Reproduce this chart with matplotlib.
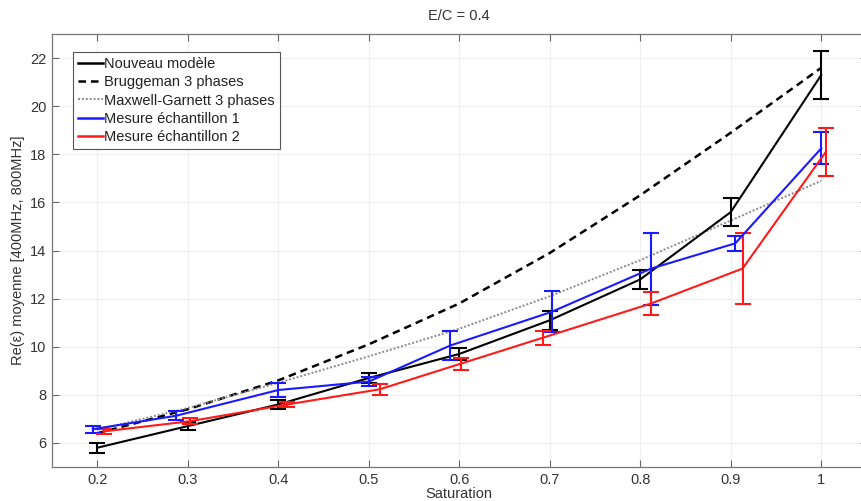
import matplotlib
matplotlib.use("Agg")
import matplotlib.pyplot as plt
from matplotlib.lines import Line2D

plt.rcParams['font.family'] = ['Liberation Sans', 'DejaVu Sans']

saturation = [0.2, 0.3, 0.4, 0.5, 0.6, 0.7, 0.8, 0.9, 1.0]

nouveau = [5.8, 6.7, 7.6, 8.7, 9.7, 11.1, 12.8, 15.6, 21.3]
nouveau_err = [0.2, 0.15, 0.17, 0.2, 0.26, 0.4, 0.38, 0.58, 0.99]

bruggeman = [6.4, 7.4, 8.6, 10.1, 11.8, 13.9, 16.3, 18.9, 21.6]
maxwell = [6.55, 7.45, 8.5, 9.6, 10.75, 12.1, 13.6, 15.25, 16.9]

x_mes1 = [0.195, 0.287, 0.4, 0.5, 0.59, 0.702, 0.812, 0.905, 1.0]
mes1 = [6.57, 7.13, 8.2, 8.55, 10.05, 11.45, 13.25, 14.3, 18.25]
mes1_err = [0.15, 0.18, 0.3, 0.2, 0.6, 0.85, 1.5, 0.3, 0.66]

x_mes2 = [0.207, 0.302, 0.41, 0.512, 0.602, 0.692, 0.812, 0.913, 1.005]
mes2 = [6.48, 6.9, 7.6, 8.23, 9.3, 10.37, 11.8, 13.25, 18.1]
mes2_err = [0.1, 0.12, 0.1, 0.22, 0.25, 0.3, 0.47, 1.48, 1.0]

labels = ['Nouveau modèle', 'Bruggeman 3 phases', 'Maxwell-Garnett 3 phases',
          'Mesure échantillon 1', 'Mesure échantillon 2']

xticks = [0.2, 0.3, 0.4, 0.5, 0.6, 0.7, 0.8, 0.9, 1.0]
xticklabels = ["0.2", "0.3", "0.4", "0.5", "0.6", "0.7", "0.8", "0.9", "1"]
yticks = [6, 8, 10, 12, 14, 16, 18, 20, 22]

c_black, c_blue, c_red, c_gray = 'black', '#1a1aff', '#ff1a1a', '#8a8a8a'
dash = (0, (3, 2))
dots = (0, (1, 1))

fig = plt.figure(figsize=(8.61, 5.01), dpi=100)
ax = fig.add_axes([0.0604, 0.0679, 0.946, 0.864])

cap = 5.5
ax.errorbar(saturation, nouveau, yerr=nouveau_err, color=c_black, lw=1.5,
            capsize=cap, capthick=1.5, elinewidth=1.5, zorder=4)
ax.plot(saturation, bruggeman, color=c_black, ls=dash, lw=1.8, zorder=3)
ax.plot(saturation, maxwell, color=c_gray, ls=dots, lw=1.4, zorder=3)
ax.errorbar(x_mes1, mes1, yerr=mes1_err, color=c_blue, lw=1.5,
            capsize=cap, capthick=1.5, elinewidth=1.5, zorder=5)
ax.errorbar(x_mes2, mes2, yerr=mes2_err, color=c_red, lw=1.5,
            capsize=cap, capthick=1.5, elinewidth=1.5, zorder=5)

ax.set_xlim(0.15, 1.05)
ax.set_ylim(5, 23)
ax.set_xticks(xticks)
ax.set_xticklabels(xticklabels)
ax.set_yticks(yticks)
ax.grid(True, color='#efefef', lw=0.8)
ax.set_axisbelow(True)

for s in ax.spines.values():
    s.set_color('#777777')
    s.set_linewidth(0.9)
ax.tick_params(direction='in', colors='#666666', labelcolor='#333333', labelsize=10.5,
               length=5, pad=4)
ax.tick_params(top=True, right=True)

ax.set_xlabel('Saturation', fontsize=10.5, color='#333333', labelpad=0)
ax.set_ylabel('Re(ε) moyenne [400MHz, 800MHz]', fontsize=10.5, color='#333333', labelpad=4)
ax.set_title('E/C = 0.4', fontsize=10.5, color='#333333', pad=10)

handles = [Line2D([], [], color=c_black, lw=1.8),
           Line2D([], [], color=c_black, ls=dash, lw=1.8),
           Line2D([], [], color=c_gray, ls=dots, lw=1.4),
           Line2D([], [], color=c_blue, lw=1.8),
           Line2D([], [], color=c_red, lw=1.8)]
leg = ax.legend(handles, labels, loc='upper left', bbox_to_anchor=(0.026, 0.958),
                fontsize=10.5, handlelength=1.7, handletextpad=0.05, borderpad=0.35,
                labelspacing=0.28, fancybox=False, framealpha=1, edgecolor='#555555',
                borderaxespad=0)
leg.get_frame().set_linewidth(0.8)
for t in leg.get_texts():
    t.set_color('#222222')

fig.savefig('out.png', dpi=100)
